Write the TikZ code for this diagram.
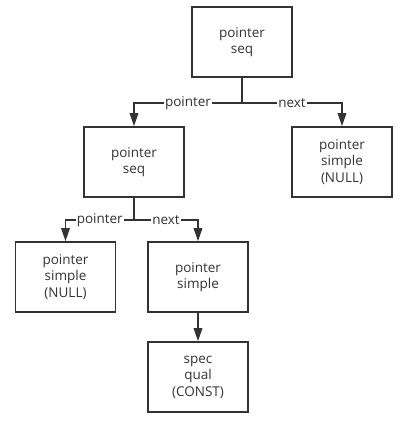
\documentclass[tikz,border=0pt]{standalone}
\usepackage{fontspec}
\setmainfont{Open Sans}
\usetikzlibrary{positioning,arrows.meta}
\definecolor{ink}{HTML}{333333}
\tikzstyle{block} = [draw=ink, line width=1.6pt, rectangle, minimum height=70pt, minimum width=100pt, align=center, text=ink, font=\fontsize{13.5}{16.5}\selectfont]
\tikzstyle{line} = [draw=ink, line width=1.6pt]
\tikzstyle{tag} = [fill=white, inner sep=1pt, text=ink, font=\fontsize{13.5}{15}\selectfont]

\begin{document}
\begin{tikzpicture}[x=1pt, y=1pt, on grid, >={Triangle[width=8.5pt,length=13pt]}]
\useasboundingbox (0,0) rectangle (411,-422);

\node [block] (top) at (242,-42) {pointer\\seq};
\node [block, below left=120 and 108 of top] (ptrseq) {pointer\\seq};
\node [block, below right=120 and 100 of top] (ptrnull) {pointer\\simple\\(NULL)};
\node [block, below left=115 and 68.5 of ptrseq] (simplenull) {pointer\\simple\\(NULL)};
\node [block, below right=115 and 64 of ptrseq] (simple) {pointer\\simple};
\node [block, below=100 of simple] (qual) {spec\\qual\\(CONST)};

\draw [line] (top.south) -- ++(0,-25) coordinate (split1);
\draw [line, ->] (split1) -| node [tag, pos=0.25] {pointer} (ptrseq.north);
\draw [line, ->] (split1) -| node [tag, pos=0.25] {next} (ptrnull.north);

\draw [line] (ptrseq.south) -- ++(0,-22) coordinate (split2);
\draw [line, ->] (split2) -| node [tag, pos=0.25] {pointer} (simplenull.north);
\draw [line, ->] (split2) -| node [tag, pos=0.25] {next} (simple.north);

\draw [line, ->] (simple) -- (qual);
\end{tikzpicture}
\end{document}
